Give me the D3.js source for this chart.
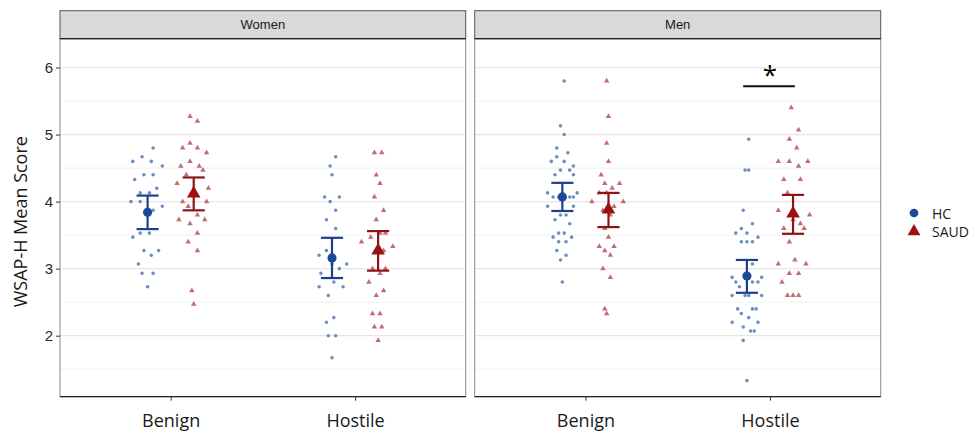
<!DOCTYPE html>
<html>
  <head>
    <meta charset="utf-8">
    <title>WSAP-H Mean Score</title>
    <style>
      body { margin: 0; background: #fff; }
    </style>
  </head>
  <body>
    <div id="container"></div>
    <script src="https://d3js.org/d3.v7.min.js"></script>
    <script>

      // DATA
      var facets = ["Women", "Men"];
      var conditions = ["Benign", "Hostile"];
      var groups = ["HC", "SAUD"];
      var yTicks = [2, 3, 4, 5, 6];
      var yMinor = [1.5, 2.5, 3.5, 4.5, 5.5];

      // group means and error bar limits, order: facet -> condition -> group
      var means = [[[3.84, 4.12], [3.16, 3.27]], [[4.07, 3.88], [2.89, 3.82]]];
      var lower = [[[3.59, 3.87], [2.86, 2.97]], [[3.86, 3.62], [2.64, 3.52]]];
      var upper = [[[4.09, 4.36], [3.46, 3.56]], [[4.28, 4.13], [3.13, 4.10]]];

      // individual scores as [jitter, score]
      var womenBenignHC = [[0.03,4.80],[-0.03,4.67],[-0.08,4.60],[0.02,4.60],[0.08,4.53],[-0.07,4.33],[-0.02,4.40],[0.03,4.40],[-0.04,4.13],[0.01,4.13],[0.05,4.20],[-0.09,4.00],[-0.04,4.00],[0.08,3.93],[0.03,3.87],[-0.08,3.47],[-0.04,3.53],[0.01,3.53],[-0.02,3.27],[0.02,3.20],[0.06,3.27],[-0.05,3.07],[-0.03,2.93],[0.03,2.93],[0.00,2.73]];
      var womenBenignSAUD = [[-0.02,5.27],[0.02,5.20],[-0.06,4.80],[-0.02,4.87],[0.02,4.80],[0.07,4.73],[-0.07,4.53],[-0.02,4.60],[0.03,4.53],[0.05,4.47],[-0.04,4.40],[-0.09,4.27],[0.08,4.20],[-0.06,4.00],[0.07,4.00],[-0.03,3.93],[0.02,3.80],[-0.08,3.73],[-0.02,3.67],[0.06,3.73],[0.02,3.53],[-0.03,3.40],[0.02,3.27],[-0.01,2.67],[0.00,2.47]];
      var womenHostileHC = [[0.02,4.67],[-0.01,4.53],[0.00,4.40],[-0.04,4.07],[-0.01,4.00],[0.04,4.07],[0.02,3.87],[-0.03,3.73],[0.02,3.60],[-0.03,3.27],[-0.07,3.20],[0.00,3.07],[0.04,3.00],[0.08,3.07],[-0.06,2.93],[0.01,2.80],[-0.07,2.73],[0.06,2.73],[-0.02,2.60],[-0.03,2.20],[0.01,2.27],[-0.02,2.00],[0.02,2.00],[0.00,1.67]];
      var womenHostileSAUD = [[-0.02,4.73],[0.02,4.73],[-0.01,4.40],[0.01,4.27],[-0.02,4.07],[0.03,3.87],[-0.01,3.73],[-0.09,3.40],[-0.04,3.47],[0.04,3.53],[0.01,3.53],[0.08,3.33],[0.03,3.27],[-0.03,3.00],[0.01,2.93],[0.04,3.00],[-0.05,2.80],[-0.01,2.60],[0.03,2.67],[-0.03,2.33],[0.01,2.33],[-0.02,2.13],[0.02,2.13],[0.00,1.93]];
      var menBenignHC = [[0.01,5.80],[-0.01,5.13],[0.01,5.00],[-0.03,4.80],[0.03,4.73],[-0.06,4.60],[-0.03,4.67],[0.01,4.60],[0.06,4.53],[-0.01,4.47],[0.04,4.47],[-0.04,4.40],[0.06,4.40],[-0.08,4.13],[-0.05,4.07],[-0.02,4.07],[0.04,4.07],[0.06,4.07],[0.08,4.13],[-0.08,3.93],[0.06,3.93],[-0.01,3.80],[0.02,3.80],[-0.04,3.73],[0.04,3.67],[-0.05,3.47],[-0.02,3.53],[0.01,3.53],[0.05,3.47],[-0.02,3.40],[0.02,3.40],[-0.03,3.27],[0.02,3.20],[-0.01,3.13],[0.00,2.80]];
      var menBenignSAUD = [[-0.01,5.80],[0.00,5.27],[-0.01,4.87],[0.00,4.60],[-0.04,4.40],[-0.02,4.27],[0.02,4.20],[0.06,4.27],[-0.05,4.13],[-0.01,4.13],[-0.09,4.00],[0.03,3.93],[0.08,4.00],[-0.03,3.87],[0.01,3.80],[-0.02,3.60],[0.00,3.47],[-0.05,3.33],[-0.02,3.27],[0.03,3.33],[0.01,3.20],[-0.03,3.00],[0.01,2.87],[-0.02,2.40],[-0.01,2.33]];
      var menHostileHC = [[0.01,4.93],[-0.01,4.47],[0.01,4.47],[-0.02,3.87],[0.03,3.67],[-0.06,3.53],[-0.03,3.60],[0.00,3.53],[0.06,3.47],[-0.03,3.40],[0.00,3.40],[0.03,3.40],[0.03,3.07],[-0.08,2.87],[-0.06,2.80],[-0.04,2.73],[0.03,2.80],[0.06,2.80],[0.08,2.87],[-0.08,2.60],[-0.01,2.60],[0.01,2.60],[0.08,2.60],[-0.05,2.40],[-0.03,2.33],[0.03,2.40],[0.05,2.40],[0.01,2.27],[-0.08,2.20],[0.06,2.20],[-0.02,2.13],[0.02,2.07],[0.04,2.07],[-0.02,1.93],[0.00,1.33]];
      var menHostileSAUD = [[-0.01,5.40],[0.03,5.07],[-0.02,4.93],[0.02,4.80],[-0.08,4.60],[-0.02,4.60],[0.08,4.60],[0.03,4.53],[-0.05,4.33],[0.04,4.33],[-0.03,4.13],[-0.08,3.87],[0.09,3.80],[0.00,3.73],[-0.05,3.60],[0.04,3.67],[0.06,3.60],[-0.02,3.40],[-0.08,3.07],[0.01,3.13],[0.07,3.07],[-0.02,2.93],[0.03,2.93],[-0.06,2.80],[-0.03,2.60],[0.00,2.60],[0.03,2.60]];

      var points = [
        [[womenBenignHC, womenBenignSAUD], [womenHostileHC, womenHostileSAUD]],
        [[menBenignHC, menBenignSAUD], [menHostileHC, menHostileSAUD]]
      ];

      // significance: facet, condition, height
      var signif = [{ facet: 1, condition: 1, y: 5.72, label: "*" }];

      // STYLE
      var pointColor = { HC: "#5a82bb", SAUD: "#bd5c68" };
      var meanColor = { HC: "#1b4a96", SAUD: "#9a1212" };
      var barColor = { HC: "#1d3f8c", SAUD: "#8e1414" };
      var dodge = 0.125, capHalf = 0.06;

      // DIMENSIONS
      var W = 970, H = 433;
      var panelTop = 38.7, panelBottom = 396.7, stripTop = 10.7;
      var panelX = [[60, 465.7], [474.7, 880.7]];

      var svg = d3.select("#container")
        .append("svg")
        .attr("width", W)
        .attr("height", H)
        .style("font-family", "'Liberation Sans', Arial, sans-serif");

      var y = d3.scaleLinear()
        .domain([1.09, 6.43])
        .range([panelBottom, panelTop]);

      facets.forEach(function (facet, f) {
        var x = d3.scaleLinear()
          .domain([0.4, 2.6])
          .range(panelX[f]);
        var g = svg.append("g");
        var left = panelX[f][0], right = panelX[f][1];

        // panel background + grid
        g.append("rect")
          .attr("x", left).attr("y", panelTop)
          .attr("width", right - left).attr("height", panelBottom - panelTop)
          .attr("fill", "#fff");
        g.selectAll(".minor")
          .data(yMinor)
          .enter().append("line")
          .attr("x1", left).attr("x2", right)
          .attr("y1", d => y(d)).attr("y2", d => y(d))
          .attr("stroke", "#f1f1f1").attr("stroke-width", 1);
        g.selectAll(".major")
          .data(yTicks)
          .enter().append("line")
          .attr("x1", left).attr("x2", right)
          .attr("y1", d => y(d)).attr("y2", d => y(d))
          .attr("stroke", "#e6e6e6").attr("stroke-width", 1.2);

        // jittered points
        conditions.forEach(function (cond, c) {
          groups.forEach(function (grp, k) {
            var cx = c + 1 + (k === 0 ? -dodge : dodge);
            var sel = g.selectAll(".pt-" + c + "-" + k)
              .data(points[f][c][k])
              .enter().append("path")
              .attr("transform", d => "translate(" + x(cx + d[0]) + "," + y(d[1]) + ")")
              .attr("fill", pointColor[grp])
              .attr("fill-opacity", 0.9);
            if (grp === "HC") sel.attr("d", d3.symbol(d3.symbolCircle, 10));
            else sel.attr("d", d3.symbol(d3.symbolTriangle, 13));
          });
        });

        // error bars + means
        conditions.forEach(function (cond, c) {
          groups.forEach(function (grp, k) {
            var cx = c + 1 + (k === 0 ? -dodge : dodge);
            var lo = lower[f][c][k], hi = upper[f][c][k];
            var eb = g.append("g")
              .attr("stroke", barColor[grp]).attr("stroke-width", 2.2);
            eb.append("line")
              .attr("x1", x(cx)).attr("x2", x(cx))
              .attr("y1", y(lo)).attr("y2", y(hi));
            [lo, hi].forEach(function (v) {
              eb.append("line")
                .attr("x1", x(cx - capHalf)).attr("x2", x(cx + capHalf))
                .attr("y1", y(v)).attr("y2", y(v));
            });
            g.append("path")
              .attr("transform", "translate(" + x(cx) + "," + y(means[f][c][k]) + ")")
              .attr("d", d3.symbol(grp === "HC" ? d3.symbolCircle : d3.symbolTriangle, grp === "HC" ? 66 : 80))
              .attr("fill", meanColor[grp]);
          });
        });

        // significance bar
        signif.filter(s => s.facet === f).forEach(function (s) {
          g.append("line")
            .attr("x1", x(s.condition + 1 - dodge - 0.02)).attr("x2", x(s.condition + 1 + dodge + 0.01))
            .attr("y1", y(s.y)).attr("y2", y(s.y))
            .attr("stroke", "#111").attr("stroke-width", 2);
          g.append("text")
            .attr("x", x(s.condition + 1)).attr("y", y(s.y) - 2)
            .attr("text-anchor", "middle")
            .style("font-family", "'Open Sans', sans-serif")
            .style("font-size", "26px")
            .text(s.label);
        });

        // panel border
        g.append("rect")
          .attr("x", left).attr("y", panelTop)
          .attr("width", right - left).attr("height", panelBottom - panelTop)
          .attr("fill", "none").attr("stroke", "#8a8a8a").attr("stroke-width", 1);

        // strip
        g.append("rect")
          .attr("x", left).attr("y", stripTop)
          .attr("width", right - left).attr("height", panelTop - stripTop)
          .attr("fill", "#d9d9d9").attr("stroke", "#555").attr("stroke-width", 1);
        g.append("line")
          .attr("x1", left).attr("x2", right)
          .attr("y1", panelTop).attr("y2", panelTop)
          .attr("stroke", "#222").attr("stroke-width", 1.3);
        g.append("text")
          .attr("x", (left + right) / 2).attr("y", (stripTop + panelTop) / 2 + 4.5)
          .attr("text-anchor", "middle")
          .style("font-size", "13px").attr("fill", "#1a1a1a")
          .text(facet);

        // x axis
        var xAxis = g.append("g")
          .attr("transform", "translate(0," + panelBottom + ")")
          .call(d3.axisBottom(x).tickValues([1, 2]).tickFormat((d, i) => conditions[i]).tickSize(4).tickSizeOuter(0));
        xAxis.select(".domain").attr("stroke", "#222").attr("stroke-width", 1.3)
          .attr("d", "M" + left + ",0H" + right);
        xAxis.selectAll(".tick line").attr("stroke", "#333");
        xAxis.selectAll(".tick text")
          .attr("dy", "0").attr("y", 30.5)
          .style("font-family", "'Open Sans', sans-serif")
          .style("font-size", "18px").attr("fill", "#1a1a1a");

        // y axis on first panel
        if (f === 0) {
          var yAxis = g.append("g")
            .attr("transform", "translate(" + left + ",0)")
            .call(d3.axisLeft(y).tickValues(yTicks).tickSize(4).tickFormat(d3.format("d")));
          yAxis.select(".domain").remove();
          yAxis.selectAll(".tick line").attr("stroke", "#333");
          yAxis.selectAll(".tick text")
            .attr("x", -7)
            .style("font-size", "15px").attr("fill", "#2a2a2a");
        }
      });

      // Y TITLE
      svg.append("text")
        .attr("transform", "translate(27," + ((panelTop + panelBottom) / 2 + 4) + ") rotate(-90)")
        .attr("text-anchor", "middle")
        .style("font-family", "'Open Sans', sans-serif")
        .style("font-size", "18px").attr("fill", "#1a1a1a")
        .text("WSAP-H Mean Score");

      // LEGEND
      var legend = svg.append("g").attr("transform", "translate(914,213)");
      groups.forEach(function (grp, k) {
        legend.append("path")
          .attr("transform", "translate(0," + (k * 18.5) + ")")
          .attr("d", d3.symbol(grp === "HC" ? d3.symbolCircle : d3.symbolTriangle, grp === "HC" ? 60 : 72))
          .attr("fill", meanColor[grp]);
        legend.append("text")
          .attr("x", 18).attr("y", k * 18.5 + 5.5)
          .style("font-family", "'Open Sans', sans-serif")
          .style("font-size", "14px").attr("fill", "#1a1a1a")
          .text(grp);
      });

    </script>
  </body>
</html>
